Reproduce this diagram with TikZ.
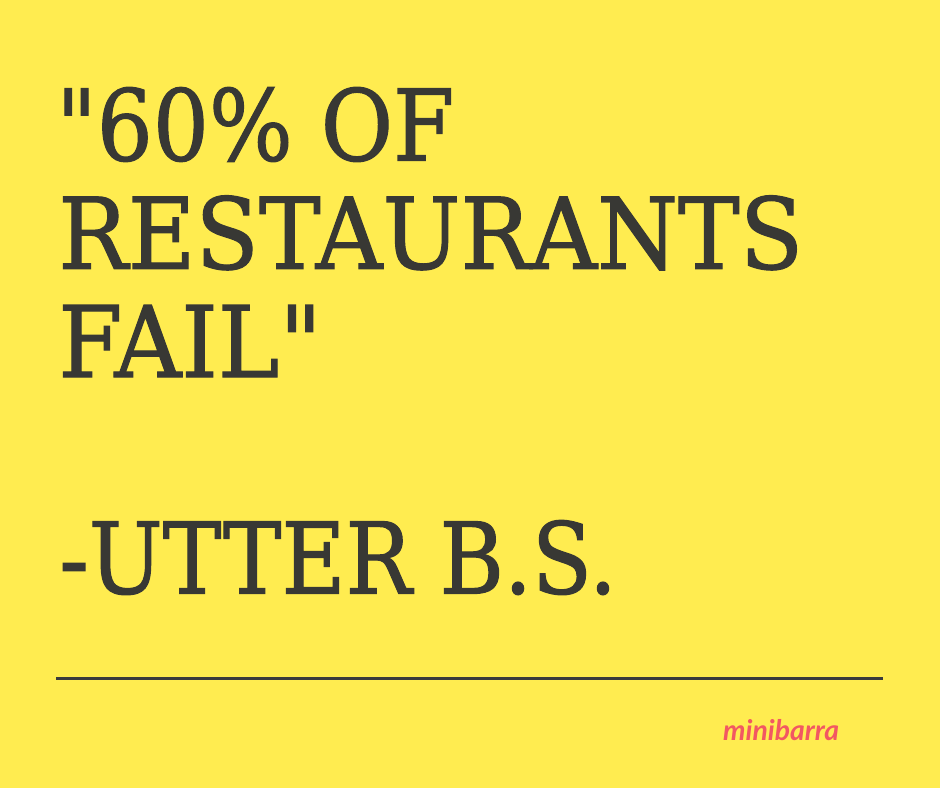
\documentclass[tikz,border=0pt]{standalone}
\usepackage{fontspec}
\usepackage{graphicx}
\setmainfont{DejaVu Serif}[Ligatures=TeXOff, FakeBold=1.2]
\newfontfamily\brandfont{Lato}
\definecolor{bgyellow}{RGB}{255,236,80}
\definecolor{inkgray}{RGB}{56,56,52}
\definecolor{brandred}{RGB}{242,88,98}
\newcommand{\bigfont}{\fontsize{98.8}{108.3}\selectfont}
\newlength\refw
\settowidth\refw{\bigfont RESTAURANTS}
\pgfmathsetmacro\xs{745/\the\refw}
\pgfmathsetmacro\xsa{\xs*0.953}
\pgfmathsetmacro\xsd{\xs*0.948}
\tikzset{
  bigline/.style={anchor=base west, inner sep=0pt, text=inkgray, font=\bigfont},
  brand/.style={anchor=base west, inner sep=0pt, text=brandred}
}
\begin{document}
\begin{tikzpicture}[x=1pt,y=1pt]
\fill[bgyellow] (0,0) rectangle (940,788);
\useasboundingbox (0,0) rectangle (940,788);
\node[bigline] (l1) at (56,{788-160.5}) {\scalebox{\xsa}[1]{\symbol{"22}60\% OF}};
\node[bigline] (l2) at (58,{788-268.8}) {\scalebox{\xs}[1]{RESTAURANTS}};
\node[bigline] (l3) at (58,{788-377.1}) {\scalebox{\xs}[1]{FAIL\symbol{"22}}};
\node[bigline] (l4) at (59,{788-593.5}) {\scalebox{\xsd}[1]{-UTTER B.S.}};
\coordinate (ruleL) at (56,{788-678.7});
\coordinate (ruleR) at (883.3,{788-678.7});
\draw[line width=2.7pt, draw={rgb,255:red,58;green,58;blue,60}] (ruleL) -- (ruleR);
\node[brand] (mb) at (723,{788-740}) {\resizebox{116pt}{!}{\brandfont\bfseries\itshape minibarra}};
\end{tikzpicture}
\end{document}
